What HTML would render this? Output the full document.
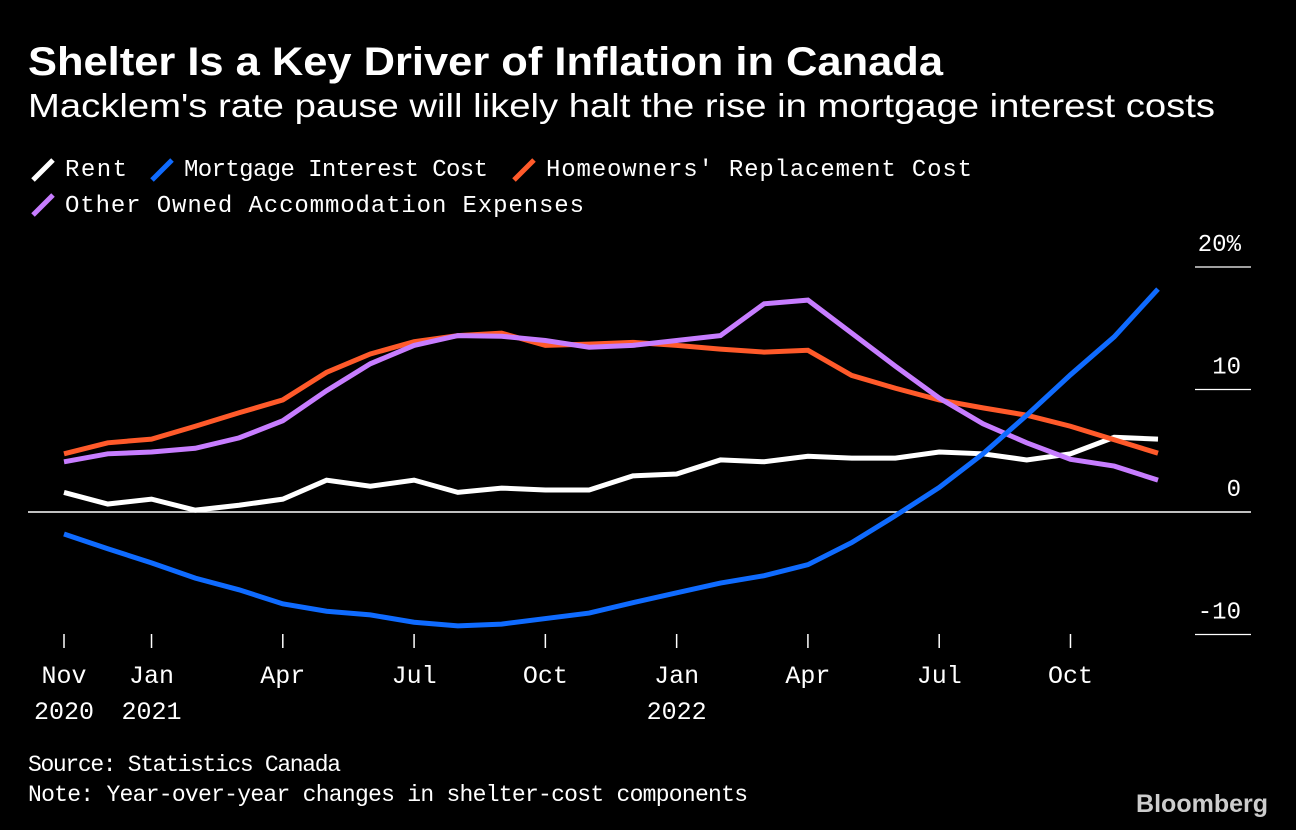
<!DOCTYPE html>
<html><head><meta charset="utf-8"><style>
html,body{margin:0;padding:0;background:#000;width:1296px;height:830px;overflow:hidden}
svg{display:block}
text{fill:#fff}
.sans{font-family:"Liberation Sans",sans-serif}
.mono{font-family:"Liberation Mono",monospace}
</style></head><body>
<svg id="c" width="1296" height="830">
<text class="sans" x="28" y="75" font-size="40" font-weight="bold" textLength="915" lengthAdjust="spacingAndGlyphs">Shelter Is a Key Driver of Inflation in Canada</text>
<text class="sans" x="28" y="117" font-size="33" textLength="1187" lengthAdjust="spacingAndGlyphs">Macklem's rate pause will likely halt the rise in mortgage interest costs</text>
<g class="mono" font-size="24">
<g><line x1="33" y1="180" x2="53" y2="160" stroke="#fff" stroke-width="5"/><text x="65" y="176" textLength="62">Rent</text></g>
<g><line x1="152" y1="180" x2="172" y2="160" stroke="#0f6bff" stroke-width="5"/><text x="184" y="176" textLength="304">Mortgage Interest Cost</text></g>
<g><line x1="514" y1="180" x2="534" y2="160" stroke="#ff5a2a" stroke-width="5"/><text x="546" y="176" textLength="426">Homeowners' Replacement Cost</text></g>
<g><line x1="33" y1="215" x2="53" y2="195" stroke="#c77dff" stroke-width="5"/><text x="65" y="212" textLength="519">Other Owned Accommodation Expenses</text></g>
</g>
<g id="axes"></g>
<g id="series"></g>
<text class="mono" x="28" y="771" font-size="23" textLength="313">Source: Statistics Canada</text>
<text class="mono" x="28" y="801" font-size="23" textLength="720">Note: Year-over-year changes in shelter-cost components</text>
<text class="sans" x="1268" y="812" font-size="25" font-weight="bold" text-anchor="end" style="fill:#ccc">Bloomberg</text>
</svg>
<script>
const months = ["Nov 2020","Dec 2020","Jan 2021","Feb 2021","Mar 2021","Apr 2021","May 2021","Jun 2021","Jul 2021","Aug 2021","Sep 2021","Oct 2021","Nov 2021","Dec 2021","Jan 2022","Feb 2022","Mar 2022","Apr 2022","May 2022","Jun 2022","Jul 2022","Aug 2022","Sep 2022","Oct 2022","Nov 2022","Dec 2022"];
const rent = [1.6,0.65,1.05,0.15,0.55,1.05,2.6,2.1,2.6,1.6,1.95,1.8,1.8,2.95,3.1,4.25,4.1,4.55,4.4,4.4,4.9,4.75,4.25,4.75,6.1,5.95];
const mortgage = [-1.8,-3.0,-4.15,-5.4,-6.35,-7.5,-8.1,-8.4,-9.0,-9.3,-9.15,-8.7,-8.25,-7.4,-6.6,-5.8,-5.2,-4.3,-2.5,-0.3,2.0,4.75,7.9,11.2,14.3,18.2];
const homeowners = [4.75,5.65,5.95,7.0,8.1,9.15,11.4,12.9,13.9,14.4,14.6,13.6,13.7,13.85,13.6,13.3,13.05,13.2,11.15,10.1,9.15,8.5,7.9,7.0,5.9,4.8];
const other = [4.1,4.75,4.9,5.2,6.05,7.45,9.9,12.1,13.6,14.4,14.35,14.0,13.45,13.6,14.0,14.4,17.0,17.3,14.6,11.9,9.3,7.2,5.65,4.3,3.75,2.6];
const yTicks = [20,10,0,-10];
const yTickLabels = ["20%","10","0","-10"];
const xTickIdx = [0,2,5,8,11,14,17,20,23];
const xTickTop = ["Nov","Jan","Apr","Jul","Oct","Jan","Apr","Jul","Oct"];
const xTickBottom = ["2020","2021","","","","2022","","",""];

const NS="http://www.w3.org/2000/svg";
const x = i => 64 + i*(1158-64)/(months.length-1);
const y = v => 512 - v*12.25;
function mk(tag, attrs, parent){const e=document.createElementNS(NS,tag);for(const k in attrs)e.setAttribute(k,attrs[k]);parent.appendChild(e);return e;}
const ax=document.getElementById('axes'), sg=document.getElementById('series');
yTicks.forEach((t,i)=>{
  const l=mk('line',{x1:t===0?28:1195,x2:1251,y1:y(t),y2:y(t),stroke:'#fff','stroke-width':t===0?1.5:1.2},ax);
  
  
  const tx=mk('text',{x:1241,y:y(t)-16,'text-anchor':'end','font-size':24,class:'mono'},ax);
  tx.textContent=yTickLabels[i];
  
  
});
xTickIdx.forEach((m,i)=>{
  const l=mk('line',{x1:x(m),x2:x(m),y1:634,y2:648,stroke:'#fff','stroke-width':1.5},ax);
  
  
  const t1=mk('text',{x:x(m),y:683,'text-anchor':'middle','font-size':25,class:'mono'},ax);
  t1.textContent=xTickTop[i];
  
  
  if(xTickBottom[i]){
    const t2=mk('text',{x:x(m),y:719,'text-anchor':'middle','font-size':25,class:'mono'},ax);
    t2.textContent=xTickBottom[i];
    
    
  }
});
function line(data,color,name){
  const p=mk('polyline',{points:data.map((v,i)=>x(i)+','+y(v)).join(' '),fill:'none',stroke:color,'stroke-width':5,'stroke-linejoin':'miter'},sg);
  
  
}
line(rent,'#ffffff','rent-line');
line(homeowners,'#ff5a2a','homeowners-replacement-line');
line(other,'#c77dff','other-owned-accommodation-line');
line(mortgage,'#0f6bff','mortgage-interest-line');
</script>
</body></html>
